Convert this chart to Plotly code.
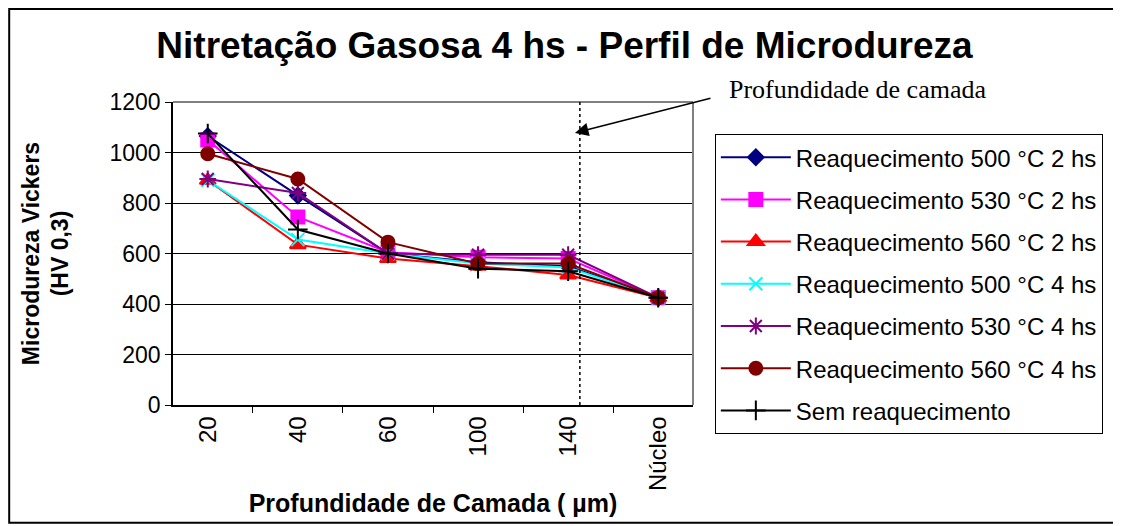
import plotly.graph_objects as go

# depth categories (µm) and microhardness values (HV 0,3)
categories = ["20", "40", "60", "100", "140", "Núcleo"]

reaq_500_2h = [1065, 830, 600, 565, 550, 425]
reaq_530_2h = [1050, 745, 605, 585, 580, 425]
reaq_560_2h = [890, 635, 580, 550, 515, 425]
reaq_500_4h = [890, 655, 600, 560, 545, 425]
reaq_530_4h = [895, 840, 600, 595, 595, 425]
reaq_560_4h = [995, 895, 645, 560, 560, 425]
sem_reaq = [1075, 695, 600, 540, 530, 425]

series = [
    ("Reaquecimento 500 °C 2 hs", reaq_500_2h, "#000080", "diamond", 12),
    ("Reaquecimento 530 °C 2 hs", reaq_530_2h, "#FF00FF", "square", 13),
    ("Reaquecimento 560 °C 2 hs", reaq_560_2h, "#FF0000", "triangle-up", 14),
    ("Reaquecimento 500 °C 4 hs", reaq_500_4h, "#00FFFF", "x-thin-open", 13),
    ("Reaquecimento 530 °C 4 hs", reaq_530_4h, "#800080", "asterisk-open", 14),
    ("Reaquecimento 560 °C 4 hs", reaq_560_4h, "#800000", "circle", 13),
    ("Sem reaquecimento", sem_reaq, "#000000", "cross-thin-open", 14),
]

fig = go.Figure()
for i, (name, vals, color, symbol, size) in enumerate(series):
    fig.add_trace(go.Scatter(
        x=categories,
        y=vals,
        name=name,
        legendgroup=f"g{i}",
        mode="lines+markers",
        line=dict(color=color, width=2),
        marker=dict(symbol=symbol, size=size, color=color,
                    line=dict(color=color, width=2)),
    ))

# page body adds an 8px margin, so the figure is sized to the remaining space
fig.update_layout(
    width=1113,
    height=518,
    margin=dict(l=165, r=428, t=94, b=121),
    paper_bgcolor="white",
    plot_bgcolor="white",
    font=dict(family="Arial, Liberation Sans, sans-serif", color="black"),
    title=dict(
        text="<b>Nitretação Gasosa 4 hs - Perfil de Microdureza</b>",
        x=0.5, xanchor="center", y=0.929, yanchor="middle",
        font=dict(size=37, color="black"),
    ),
    showlegend=True,
    legend=dict(
        x=1.042, y=0.894, xanchor="left", yanchor="top",
        bordercolor="black", borderwidth=1,
        font=dict(size=24),
        itemwidth=70,
        tracegroupgap=8,
        bgcolor="white",
    ),
    xaxis=dict(
        type="category",
        showline=True, linecolor="black", linewidth=1.5,
        ticks="outside", ticklen=6, tickcolor="black",
        tickson="boundaries",
        tickangle=-90,
        tickfont=dict(size=24),
        showgrid=False,
        title=dict(text="<b>Profundidade de Camada ( µm)</b>",
                   font=dict(size=25), standoff=4),
    ),
    yaxis=dict(
        range=[0, 1200],
        dtick=200,
        showline=True, linecolor="black", linewidth=1.5,
        ticks="outside", ticklen=6, tickcolor="black",
        tickfont=dict(size=23),
        showgrid=True, gridcolor="black", gridwidth=1.2,
        zeroline=False,
        title=dict(text="<b>Microdureza Vickers<br>(HV 0,3)</b>",
                   font=dict(size=23), standoff=34),
    ),
)

# gray frame on top and right of the plot area
fig.add_shape(type="line", xref="paper", yref="paper", x0=0, x1=1, y0=1, y1=1,
              line=dict(color="#808080", width=2))
fig.add_shape(type="line", xref="paper", yref="paper", x0=1, x1=1, y0=0, y1=1,
              line=dict(color="#808080", width=2))

# dotted marker for layer depth
fig.add_shape(type="line", xref="x", yref="paper", x0=4.13, x1=4.13, y0=0, y1=1,
              line=dict(color="black", width=1.5, dash="dot"))

# outer chart border
fig.add_shape(type="rect", xref="paper", yref="paper",
              x0=-0.315, x1=1.815, y0=-0.389, y1=1.307,
              line=dict(color="black", width=2), layer="below")

fig.add_annotation(
    text="Profundidade de camada", xref="paper", yref="paper",
    x=1.317, y=1.04, xanchor="center", yanchor="middle", showarrow=False,
    font=dict(family="Liberation Serif, Times New Roman, serif", size=26, color="black"),
)
fig.add_annotation(
    text="", xref="paper", yref="paper", x=0.773, y=0.898,
    showarrow=True, arrowhead=2, arrowsize=1.8, arrowwidth=1.5, arrowcolor="black",
    ax=137, ay=-35,
)

fig.write_html("out.html")
